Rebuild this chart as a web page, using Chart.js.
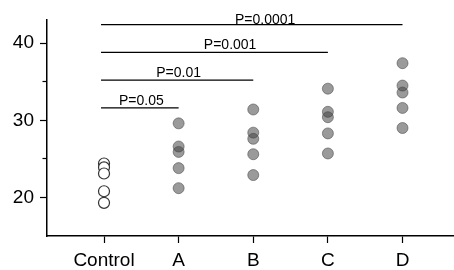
<!DOCTYPE html>
<html>
<head>
<meta charset="utf-8">
<script src="https://cdn.jsdelivr.net/npm/chart.js@4/dist/chart.umd.min.js"></script>
<style>
html,body{margin:0;padding:0;background:#fff;overflow:hidden;}
#wrap{width:454px;height:270px;position:relative;}
#c{display:block;}
</style>
</head>
<body>
<div id="wrap"><canvas id="c" width="454" height="270" style="width:454px;height:270px"></canvas></div>
<script>
const categories = ['Control', 'A', 'B', 'C', 'D'];
const controlValues = [24.4, 23.9, 23.1, 20.8, 19.3];
const aValues = [29.6, 26.6, 25.9, 23.8, 21.2];
const bValues = [31.4, 28.4, 27.6, 25.6, 22.9];
const cValues = [34.1, 31.1, 30.4, 28.3, 25.7];
const dValues = [37.4, 34.5, 33.6, 31.6, 29.0];
const yTickValues = [20, 25, 30, 35, 40];
const pLabels = ['P=0.05', 'P=0.01', 'P=0.001', 'P=0.0001'];
const pTargets = [1, 2, 3, 4];
const pLineY = [31.6, 35.2, 38.8, 42.4];
const pLabelX = [0.5, 1.0, 1.69, 2.16];
const pLabelY = [32.0, 35.65, 39.3, 42.45];

const groupValues = [aValues, bValues, cValues, dValues];

const datasets = [];
datasets.push({
  type: 'scatter',
  data: controlValues.map(v => ({x: 0, y: v})),
  pointRadius: 5.5,
  pointBackgroundColor: '#ffffff',
  pointBorderColor: '#333333',
  pointBorderWidth: 1.2,
  order: 1
});
groupValues.forEach((vals, gi) => {
  datasets.push({
    type: 'scatter',
    data: vals.map(v => ({x: gi + 1, y: v})),
    pointRadius: 5.5,
    pointBackgroundColor: 'rgba(62,62,62,0.52)',
    pointBorderColor: 'rgba(70,70,70,0.55)',
    pointBorderWidth: 1,
    order: 1
  });
});
pTargets.forEach((t, i) => {
  datasets.push({
    type: 'line',
    data: [{x: -0.04, y: pLineY[i]}, {x: t, y: pLineY[i]}],
    borderColor: '#000',
    borderWidth: 1.3,
    pointRadius: 0,
    fill: false,
    order: 2
  });
});

const stretchPlugin = {
  id: 'stretchRight',
  afterLayout(chart) {
    const xs = chart.scales.x;
    const target = chart.width;
    if (xs.right < target) {
      const d = target - xs.right;
      xs.right = target;
      xs.width += d;
      chart.chartArea.right = target;
      chart.chartArea.width += d;
      xs.configure();
    }
  }
};

const pTextPlugin = {
  id: 'pText',
  afterDatasetsDraw(chart) {
    const {ctx, scales: {x, y}} = chart;
    ctx.save();
    ctx.fillStyle = '#000';
    ctx.font = '14px "Liberation Sans", Arial, sans-serif';
    ctx.textAlign = 'center';
    ctx.textBaseline = 'alphabetic';
    pLabels.forEach((lbl, i) => {
      ctx.fillText(lbl, x.getPixelForValue(pLabelX[i]), y.getPixelForValue(pLabelY[i]));
    });
    ctx.restore();
  }
};

new Chart(document.getElementById('c'), {
  data: {datasets},
  plugins: [stretchPlugin, pTextPlugin],
  options: {
    responsive: false,
    maintainAspectRatio: false,
    animation: false,
    layout: {padding: {top: 20, left: 0, right: 0, bottom: 0}},
    plugins: {legend: {display: false}, tooltip: {enabled: false}},
    scales: {
      x: {
        type: 'linear',
        min: -0.764,
        max: 4.69,
        afterBuildTicks(scale) { scale.ticks = categories.map((c, i) => ({value: i})); },
        afterFit(scale) { scale.height = 34; scale.paddingLeft = 0; scale.paddingRight = 0; },
        ticks: {
          autoSkip: false,
          maxRotation: 0,
          padding: 6,
          color: '#000',
          font: {family: '"Liberation Sans", Arial, sans-serif', size: 19},
          callback: (v) => categories[v]
        },
        grid: {drawOnChartArea: false, drawTicks: true, tickLength: 7, tickColor: '#000', tickWidth: 1.2},
        border: {display: true, color: '#000', width: 1.5}
      },
      y: {
        type: 'linear',
        min: 15,
        max: 43.0,
        afterBuildTicks(scale) { scale.ticks = yTickValues.map(v => ({value: v})); },
        afterFit(scale) { scale.width = 47; scale.paddingTop = 0; scale.paddingBottom = 0; },
        ticks: {
          padding: 6,
          color: '#000',
          font: {family: '"Liberation Sans", Arial, sans-serif', size: 19},
          callback: (v) => (v % 10 === 0 ? String(v) : '')
        },
        grid: {
          drawOnChartArea: false,
          drawTicks: true,
          tickLength: 7,
          tickColor: '#000',
          tickWidth: 1.2,
          tickBorderDash: (ctx) => (ctx.tick && ctx.tick.value % 10 !== 0 ? [4.5, 100] : []),
          tickBorderDashOffset: (ctx) => (ctx.tick && ctx.tick.value % 10 !== 0 ? 102 : 0)
        },
        border: {display: true, color: '#000', width: 1.5}
      }
    }
  }
});
</script>
</body>
</html>
